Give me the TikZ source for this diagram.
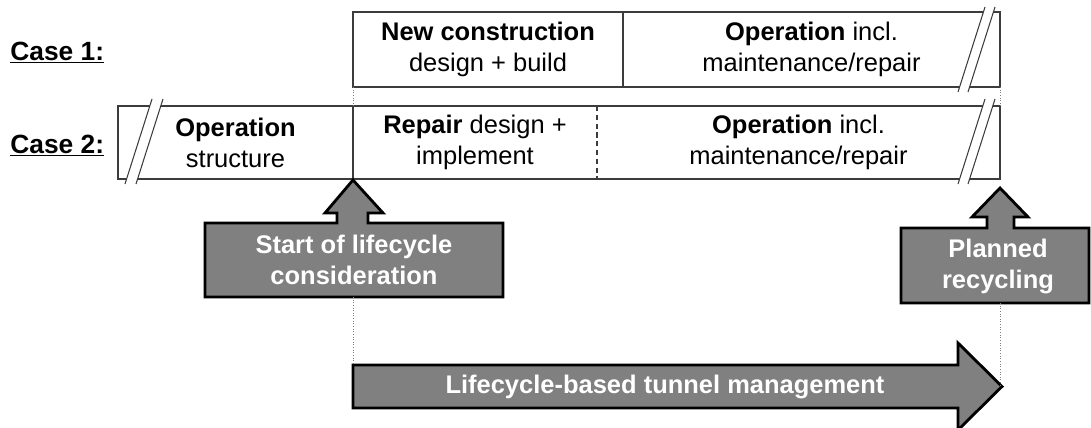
\documentclass[tikz,border=0pt]{standalone}
\usepackage{fontspec}
\setmainfont{Liberation Sans}
\definecolor{boxgray}{RGB}{128, 128, 128}
\definecolor{framegray}{RGB}{60, 60, 60}
\usetikzlibrary{positioning, calc}

\tikzset{
  frame/.style={draw=framegray, line width=0.6pt},
  celltext/.style={font=\fontsize{14.5}{17.6}\selectfont, align=center, inner sep=0pt},
  casetext/.style={font=\fontsize{15}{18}\selectfont\bfseries, anchor=base west, inner sep=0pt},
  callout/.style={fill=boxgray, draw=black, line width=1.6pt, line join=miter},
  callouttext/.style={text=white, font=\fontsize{14.5}{17.6}\selectfont\bfseries, align=center, inner sep=0pt},
  dotline/.style={draw=gray, densely dotted, line width=0.5pt},
}

% break marks: two slanted strokes with a white gap in between
\newcommand{\breakmark}[3]{%
  \fill[white] (#1,#2) -- ++(#3,0) -- ++(-0.54,-1.7) -- ++(-#3,0) -- cycle;
  \draw[framegray, line width=0.6pt] (#1,#2) -- ++(-0.54,-1.7) ++(#3,0) -- ++(0.54,1.7);
}

\begin{document}
\begin{tikzpicture}
  \useasboundingbox (0, 0) rectangle (21.82, -8.54);

  % Case labels
  \node[casetext] (case1) at (0.2, -1.2) {\underline{Case 1:}};
  \node[casetext] (case2) at (0.2, -3.06) {\underline{Case 2:}};

  % Case 1 row
  \draw[frame] (7.06, -0.24) rectangle (20, -1.74);
  \draw[frame] (12.46, -0.24) -- (12.46, -1.74);
  \breakmark{19.7}{-0.14}{0.2}
  \node[celltext] (newbuild) at (9.76, -0.98) {\textbf{New construction}\\design + build};
  \node[celltext] (operate1) at (16.23, -0.98) {\textbf{Operation} incl.\\maintenance/repair};

  % Case 2 row
  \draw[frame] (2.36, -2.12) rectangle (20, -3.58);
  \draw[frame] (7.06, -2.12) -- (7.06, -3.58);
  \draw[frame, densely dashed] (11.94, -2.12) -- (11.94, -3.58);
  \breakmark{3.04}{-1.98}{0.22}
  \breakmark{19.7}{-1.98}{0.2}
  \node[celltext] (operate0) at (4.71, -2.85) {\textbf{Operation}\\structure};
  \node[celltext] (repair) at (9.5, -2.85) {\textbf{Repair} design +\\implement};
  \node[celltext] (operate2) at (15.97, -2.85) {\textbf{Operation} incl.\\maintenance/repair};

  % Start of lifecycle
  \draw[callout] (7.06, -3.6) -- (7.66, -4.26) -- (7.36, -4.26) -- (7.36, -4.46)
    -- (10.06, -4.46) -- (10.06, -5.94) -- (4.1, -5.94) -- (4.1, -4.46)
    -- (6.74, -4.46) -- (6.74, -4.26) -- (6.5, -4.26) -- cycle;
  \node[callouttext] (start) at (7.08, -5.2) {Start of lifecycle\\consideration};

  % Planned recycling
  \draw[callout] (20, -3.76) -- (20.56, -4.34) -- (20.28, -4.34) -- (20.28, -4.56)
    -- (21.78, -4.56) -- (21.78, -6.06) -- (18.02, -6.06) -- (18.02, -4.56)
    -- (19.74, -4.56) -- (19.74, -4.34) -- (19.44, -4.34) -- cycle;
  \node[callouttext] (recycle) at (19.96, -5.33) {Planned\\recycling};

  % Lifecycle-based management
  \draw[callout] (7.06, -7.3) -- (19.16, -7.3) -- (19.16, -6.86) -- (20.04, -7.73)
    -- (19.16, -8.6) -- (19.16, -8.16) -- (7.06, -8.16) -- cycle;
  \node[callouttext] (manage) at (13.3, -7.73) {Lifecycle-based tunnel management};

  % dotted guide lines
  \coordinate (c1left) at (7.06, -1.74);
  \coordinate (c2left) at (7.06, -2.12);
  \coordinate (c1right) at (20, -1.74);
  \coordinate (c2right) at (20, -2.12);
  \coordinate (startfoot) at (7.06, -5.94);
  \coordinate (managetail) at (7.06, -7.3);
  \coordinate (recyclefoot) at (20, -6.06);
  \coordinate (managetip) at (20, -7.73);
  \draw[dotline] (c1left) -- (c2left);
  \draw[dotline] (c1right) -- (c2right);
  \draw[dotline] (startfoot) -- (managetail);
  \draw[dotline] (recyclefoot) -- (managetip);
\end{tikzpicture}
\end{document}
